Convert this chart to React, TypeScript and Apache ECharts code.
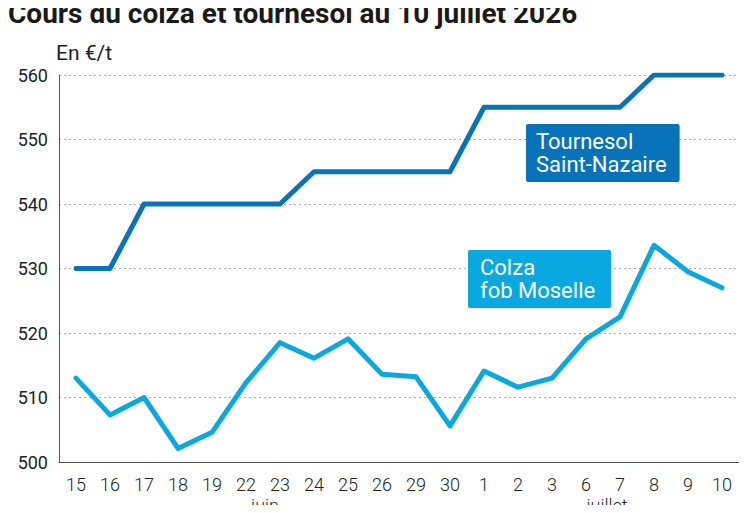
import React, { useEffect, useRef } from "react";
import * as echarts from "echarts";

// Trading days (15 June – 10 July)
const days = ["15", "16", "17", "18", "19", "22", "23", "24", "25", "26", "29", "30", "1", "2", "3", "6", "7", "8", "9", "10"];

// Prices in €/t
const tournesol = [530, 530, 540, 540, 540, 540, 540, 545, 545, 545, 545, 545, 555, 555, 555, 555, 555, 560, 560, 560];
const colza = [513, 507.3, 510, 502.1, 504.6, 512.3, 518.5, 516.1, 519.1, 513.6, 513.2, 505.6, 514.1, 511.6, 513, 519.1, 522.5, 533.6, 529.5, 527];

const yTicks = { min: 500, max: 560, interval: 10 };
const months = ["juin", "juillet"];

const DARK_BLUE = "#0873b9";
const LIGHT_BLUE = "#0aa8e0";
const FONT = "Roboto, 'Noto Sans', sans-serif";

export default function App() {
  const ref = useRef<HTMLDivElement>(null);

  useEffect(() => {
    if (!ref.current) return;
    const chart = echarts.init(ref.current, null, { renderer: "svg" });
    chart.setOption({
      animation: false,
      backgroundColor: "#ffffff",
      textStyle: { fontFamily: FONT },
      title: {
        text: "Cours du colza et tournesol au 10 juillet 2026",
        left: 8,
        top: -2,
        padding: 0,
        textStyle: { fontFamily: FONT, fontSize: 28, fontWeight: "bold", color: "#1a1a1a", lineHeight: 30 },
      },
      grid: { left: 59, right: 8, top: 75, bottom: 51, containLabel: false },
      xAxis: {
        type: "category",
        data: days,
        boundaryGap: true,
        axisLine: { show: true, lineStyle: { color: "#555555", width: 1 } },
        axisTick: { show: false },
        axisLabel: { fontSize: 18, fontWeight: 300, color: "#222222", margin: 13, fontFamily: FONT, interval: 0 },
        splitLine: { show: false },
      },
      yAxis: {
        type: "value",
        min: yTicks.min,
        max: yTicks.max,
        interval: yTicks.interval,
        name: "En €/t",
        nameLocation: "end",
        nameGap: 12,
        nameTextStyle: { fontSize: 21, color: "#222222", align: "left", fontFamily: FONT, padding: [0, 0, 0, -3] },
        axisLine: { show: true, lineStyle: { color: "#555555", width: 1 } },
        axisTick: { show: false },
        axisLabel: { fontSize: 18, color: "#222222", margin: 11, fontFamily: FONT },
        splitLine: { show: true, lineStyle: { color: "#aaaaaa", type: [2, 3], width: 1 } },
      },
      series: [
        {
          name: "Tournesol Saint-Nazaire",
          type: "line",
          data: tournesol,
          symbol: "none",
          lineStyle: { color: DARK_BLUE, width: 5, cap: "round", join: "round" },
          z: 3,
        },
        {
          name: "Colza fob Moselle",
          type: "line",
          data: colza,
          symbol: "none",
          lineStyle: { color: LIGHT_BLUE, width: 5, cap: "round", join: "round" },
          z: 4,
        },
      ],
      graphic: [
        {
          type: "text",
          left: 526,
          top: 124,
          z: 10,
          style: {
            text: "Tournesol\nSaint-Nazaire",
            fill: "#ffffff",
            font: `22px ${FONT}`,
            lineHeight: 23,
            backgroundColor: DARK_BLUE,
            padding: [6, 13, 6, 10],
            borderRadius: 2,
          },
        },
        {
          type: "text",
          left: 468,
          top: 250,
          z: 10,
          style: {
            text: "Colza\nfob Moselle",
            fill: "#ffffff",
            font: `22px ${FONT}`,
            lineHeight: 23,
            backgroundColor: LIGHT_BLUE,
            padding: [6, 16, 6, 12],
            borderRadius: 2,
          },
        },
        {
          type: "text",
          x: 265,
          y: 496,
          style: { text: months[0], fill: "#222222", font: `300 18px ${FONT}`, align: "center", verticalAlign: "top" },
        },
        {
          type: "text",
          x: 607,
          y: 496,
          style: { text: months[1], fill: "#222222", font: `300 18px ${FONT}`, align: "center", verticalAlign: "top" },
        },
      ],
    });
    return () => chart.dispose();
  }, []);

  return <div ref={ref} style={{ width: 747, height: 513, margin: -8 }} />;
}
